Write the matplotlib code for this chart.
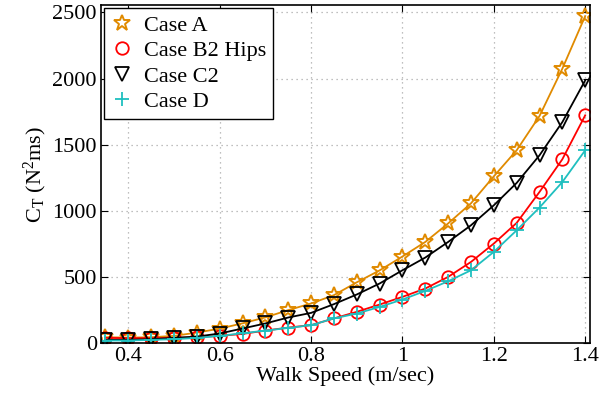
import numpy as np
import matplotlib
matplotlib.use('Agg')
import matplotlib.pyplot as plt

plt.rcParams['font.family'] = 'Liberation Serif'
plt.rcParams['mathtext.fontset'] = 'custom'
plt.rcParams['mathtext.rm'] = 'Liberation Serif'
plt.rcParams['mathtext.it'] = 'Liberation Serif:italic'

speed = [0.35, 0.40, 0.45, 0.50, 0.55, 0.60, 0.65, 0.70, 0.75, 0.80, 0.85,
         0.90, 0.95, 1.00, 1.05, 1.10, 1.15, 1.20, 1.25, 1.30, 1.35, 1.40]

case_a = [45, 42, 45, 55, 80, 110, 150, 195, 250, 300, 363,
          460, 550, 655, 765, 905, 1057, 1261, 1458, 1717, 2075, 2472]
case_b2 = [40, 38, 38, 40, 45, 55, 70, 95, 118, 136, 187,
           237, 292, 350, 413, 501, 614, 753, 909, 1143, 1390, 1722]
case_c2 = [25, 25, 30, 40, 50, 73, 111, 149, 194, 229, 295,
           368, 451, 551, 647, 765, 891, 1042, 1211, 1420, 1671, 1986]
case_d = [20, 20, 25, 30, 40, 55, 75, 95, 115, 136, 187,
          224, 274, 330, 395, 468, 551, 690, 853, 1025, 1218, 1458]

fig = plt.figure(figsize=(6.08, 3.94), dpi=100)
ax = fig.add_axes([0.166, 0.129, 0.804, 0.858])

ax.plot(speed, case_a, '-', color='#e08a00', lw=1.3, marker='*', ms=12,
        mfc='none', mec='#e08a00', mew=1.4, label='Case A')
ax.plot(speed, case_b2, '-', color='red', lw=1.3, marker='o', ms=9,
        mfc='none', mec='red', mew=1.3, label='Case B2 Hips')
ax.plot(speed, case_c2, '-', color='black', lw=1.3, marker='v', ms=9.5,
        mfc='none', mec='black', mew=1.3, label='Case C2')
ax.plot(speed, case_d, '-', color='#1fbfbf', lw=1.3, marker='+', ms=10,
        mfc='none', mec='#1fbfbf', mew=1.3, label='Case D')

ax.set_xlim(0.34, 1.41)
ax.set_ylim(0, 2555)
ax.set_xticks([0.4, 0.6, 0.8, 1.0, 1.2, 1.4])
ax.set_xticklabels(['0.4', '0.6', '0.8', '1', '1.2', '1.4'])
ax.set_yticks([0, 500, 1000, 1500, 2000, 2500])
ax.tick_params(direction='in', top=True, right=True, labelsize=16, length=5, pad=3)
ax.grid(True, linestyle=(0, (1, 3)), color='#aaaaaa', lw=0.9)
for s in ax.spines.values():
    s.set_linewidth(1.2)

ax.set_xlabel('Walk Speed (m/sec)', fontsize=16, labelpad=0)
ax.set_ylabel(r'C$_\mathrm{T}$ (N$^2$ms)', fontsize=16, labelpad=2)

leg = ax.legend(loc='upper left', fontsize=16, fancybox=False, edgecolor='black',
                framealpha=1, borderaxespad=0.15, handlelength=1.0,
                handletextpad=0.5, borderpad=0.3, labelspacing=0.22, numpoints=1)
leg.get_frame().set_linewidth(1.0)
for line in leg.get_lines():
    line.set_linestyle('none')

fig.savefig('out.png', dpi=100)
